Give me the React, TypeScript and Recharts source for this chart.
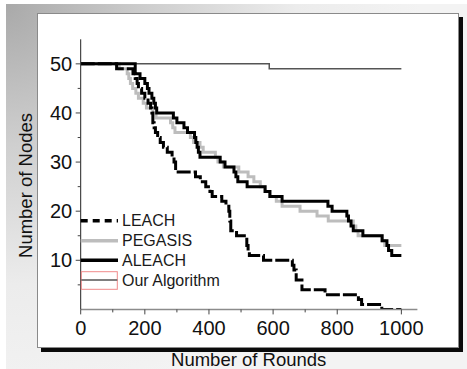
import React from "react";
import { LineChart, Line, XAxis, YAxis, Legend } from "recharts";

const leachRounds = [0,112,163,170,176,180,190,200,210,218,222,225,229,233,240,248,258,270,285,291,296,358,373,390,403,410,440,453,462,465,468,486,518,522,526,570,660,665,672,690,762,866,876,939,1000];
const leachNodes = [50,49,48,47,46,45,44,43,42,41,40,38,37,36,35,34,33,32,31,30,28,27,26,25,24,23,22,21,20,18,16,15,13,12,11,10,9,8,6,4,3,2,1,0,0];

const pegasisRounds = [0,120,145,150,155,162,172,180,195,205,225,235,280,287,294,342,352,372,382,420,428,445,493,522,540,560,575,590,610,628,684,737,772,850,858,865,940,948,1000];
const pegasisNodes = [50,49,48,47,46,45,44,43,42,41,40,39,38,37,36,35,34,33,32,31,30,29,28,27,26,25,24,23,22,21,20,19,18,17,16,15,14,13,13];

const aleachRounds = [0,170,185,200,208,213,222,228,233,237,289,300,322,333,355,359,363,367,372,435,450,478,484,490,519,575,590,628,771,784,830,835,843,850,880,940,955,960,970,1000];
const aleachNodes = [50,48,47,46,45,44,43,42,41,40,39,38,37,36,35,34,33,32,31,30,29,28,27,26,25,24,23,22,21,20,19,18,17,16,15,14,13,12,11,11];

const oursRounds = [0,588,1000];
const oursNodes = [50,49,49];

const xTicks = [0,100,200,300,400,500,600,700,800,900,1000];
const yTicks = [5,10,15,20,25,30,35,40,45,50];
const seriesNames = ["LEACH", "PEGASIS", "ALEACH", "Our Algorithm"];

const toData = (xs: number[], ys: number[]) => xs.map((x, i) => ({ x, y: ys[i] }));

const FONT = "'Liberation Sans', Arial, sans-serif";

const XTick = (props: any) => {
  const { x, y, payload } = props;
  const major = payload.value % 200 === 0;
  return (
    <g>
      <line x1={x} x2={x} y1={y} y2={y + (major ? 5 : 3)} stroke="#444" strokeWidth={1} />
      {major && (
        <text x={x} y={y + 26} textAnchor="middle" fontSize={20} fontFamily={FONT} fill="#111">
          {payload.value}
        </text>
      )}
    </g>
  );
};

const YTick = (props: any) => {
  const { x, y, payload } = props;
  const major = payload.value % 10 === 0;
  return (
    <g>
      <line x1={x} x2={x - (major ? 5 : 3)} y1={y} y2={y} stroke="#444" strokeWidth={1} />
      {major && (
        <text x={x - 8.5} y={y} dy="0.36em" textAnchor="end" fontSize={20} fontFamily={FONT} fill="#111">
          {payload.value}
        </text>
      )}
    </g>
  );
};

const LegendContent = () => {
  const rows = [220.7, 240.7, 260.3, 280];
  const x1 = 80.7, x2 = 118, tx = 122;
  return (
    <svg width={467} height={369} style={{ position: "absolute", left: 0, top: 0, pointerEvents: "none" }}>
      <line x1={x1} x2={x2} y1={rows[0]} y2={rows[0]} stroke="#000" strokeWidth={3.5} strokeDasharray="7 5" />
      <line x1={x1} x2={x2} y1={rows[1]} y2={rows[1]} stroke="#bdbdbd" strokeWidth={3.5} />
      <line x1={x1} x2={x2} y1={rows[2]} y2={rows[2]} stroke="#000" strokeWidth={3.5} />
      <rect x={81.3} y={271.7} width={36} height={17.6} fill="none" stroke="#f08a8a" strokeWidth={1} />
      <line x1={81.3} x2={117.3} y1={rows[3]} y2={rows[3]} stroke="#555" strokeWidth={1.5} />
      {seriesNames.map((n, i) => (
        <text key={n} x={tx} y={rows[i]} dy="0.36em" fontSize={16} fontFamily={FONT} fill="#1a1a1a">
          {n}
        </text>
      ))}
      <text x={248.7} y={366} textAnchor="middle" fontSize={18.5} fontFamily={FONT} fill="#111">
        Number of Rounds
      </text>
      <text
        x={0}
        y={0}
        transform="translate(31.5,185.5) rotate(-90)"
        textAnchor="middle"
        fontSize={18.5}
        fontFamily={FONT}
        fill="#111"
      >
        Number of Nodes
      </text>
    </svg>
  );
};

export default function App() {
  return (
    <div style={{ position: "absolute", left: 0, top: 0, width: 467, height: 369, background: "#fff", overflow: "hidden" }}>
      <div
        style={{
          position: "absolute",
          left: 6,
          top: 4,
          width: 461,
          height: 365,
          background:
            "radial-gradient(ellipse 90% 110% at 0% 0%, #a9a9a9 0%, #cfcfcf 35%, #ececec 70%, #f3f3f3 100%)",
        }}
      />
      <div
        style={{
          position: "absolute",
          left: 36.5,
          top: 12.5,
          width: 420,
          height: 333,
          background: "#fff",
          border: "1px solid #8a8a8a",
          boxShadow: "4px 4px 0 #0a0a0a",
        }}
      />
      <div style={{ position: "absolute", left: 0, top: 0 }}>
        <LineChart width={467} height={369} margin={{ top: 39.3, right: 49.6, bottom: 29.6, left: 20.7 }}>
          <XAxis
            type="number"
            dataKey="x"
            domain={[0, 1050]}
            ticks={xTicks}
            height={30}
            tickSize={0}
            tickMargin={0}
            tickLine={false}
            tick={<XTick />}
            axisLine={{ stroke: "#8c8c8c", strokeWidth: 1.5 }}
            allowDataOverflow
          />
          <YAxis
            type="number"
            dataKey="y"
            domain={[0, 55]}
            ticks={yTicks}
            width={60}
            tickSize={0}
            tickMargin={0}
            tickLine={false}
            tick={<YTick />}
            axisLine={{ stroke: "#222", strokeWidth: 1 }}
            allowDataOverflow
          />
          <Legend layout="vertical" align="center" verticalAlign="middle" content={<LegendContent />}
            wrapperStyle={{ position: "absolute", left: 0, top: 0, width: 467, height: 369 }} />
          <Line data={toData(oursRounds, oursNodes)} dataKey="y" name="Our Algorithm" type="stepAfter" stroke="#555" strokeWidth={1.5} dot={false} isAnimationActive={false} />
          <Line data={toData(pegasisRounds, pegasisNodes)} dataKey="y" name="PEGASIS" type="stepAfter" stroke="#bdbdbd" strokeWidth={3} dot={false} isAnimationActive={false} />
          <Line data={toData(leachRounds, leachNodes)} dataKey="y" name="LEACH" type="stepAfter" stroke="#000" strokeWidth={3} strokeDasharray="14 3" dot={false} isAnimationActive={false} />
          <Line data={toData(aleachRounds, aleachNodes)} dataKey="y" name="ALEACH" type="stepAfter" stroke="#000" strokeWidth={3} dot={false} isAnimationActive={false} />
        </LineChart>
      </div>
    </div>
  );
}
